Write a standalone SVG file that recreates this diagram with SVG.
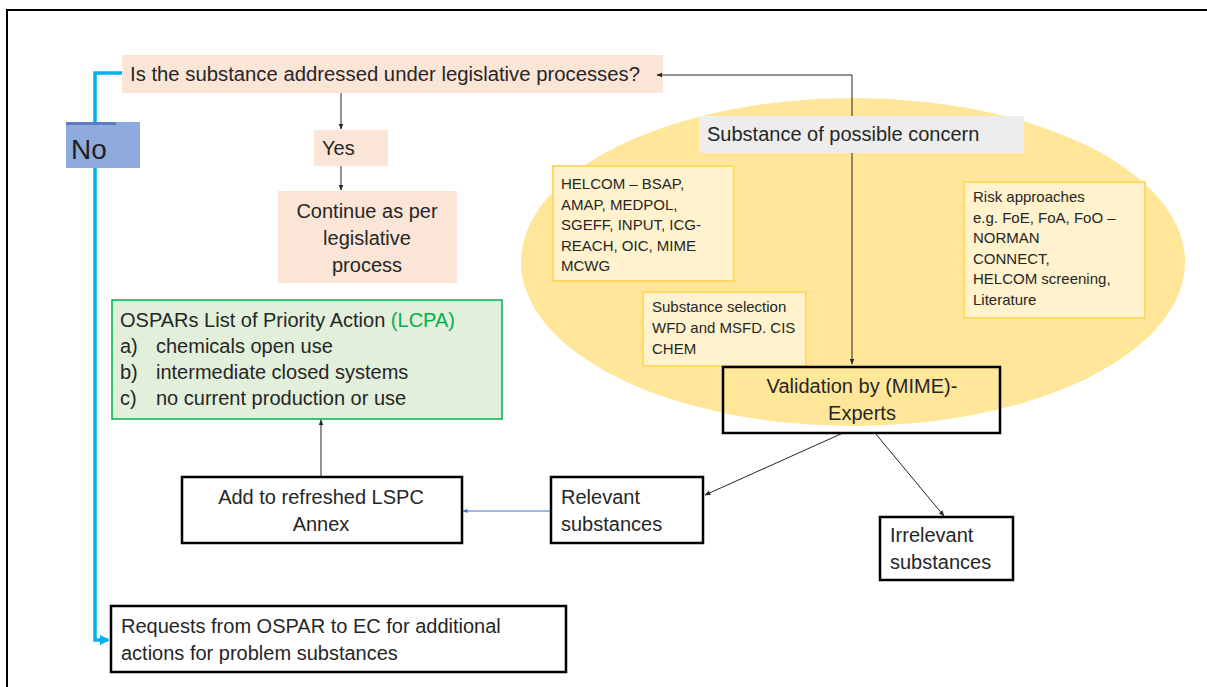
<svg xmlns="http://www.w3.org/2000/svg" width="1207" height="687" viewBox="0 0 1207 687">
<defs>
<style>
text{font-family:"Liberation Sans",Arial,sans-serif;fill:#262626}
.t18{font-size:20px}
.t13{font-size:15px}
.peach{fill:#FBE5D6}
.box{fill:#fff;stroke:#000;stroke-width:2.5}
.note{fill:#FFF2CC;stroke:#FFD966;stroke-width:2}
.con{stroke:#262626;stroke-width:1;fill:none}
.blue{stroke:#00B0F0;stroke-width:3.5;fill:none}
</style>
<marker id="ah" viewBox="0 0 10 10" refX="9" refY="5" markerWidth="6" markerHeight="6" orient="auto"><path d="M0,1 L10,5 L0,9 z" fill="#262626"/></marker>
<marker id="ahb" viewBox="0 0 10 10" refX="9" refY="5" markerWidth="5" markerHeight="5" orient="auto"><path d="M0,1 L10,5 L0,9 z" fill="#4472C4"/></marker>
<marker id="ahc" viewBox="0 0 10 10" refX="8" refY="5" markerWidth="3" markerHeight="3" orient="auto"><path d="M0,0 L10,5 L0,10 z" fill="#00B0F0"/></marker>
</defs>
<rect x="0" y="0" width="1207" height="687" fill="#fff"/>
<path d="M7,690 L7,10 L1210,10" fill="none" stroke="#000" stroke-width="2"/>

<g id="ellipse"><ellipse cx="853" cy="262" rx="332" ry="164" fill="#FFE699"/></g>

<g id="question"><rect class="peach" x="122" y="55" width="541" height="38"/>
<text class="t18" x="130" y="81" textLength="510" lengthAdjust="spacingAndGlyphs">Is the substance addressed under legislative processes?</text></g>

<g id="no"><rect x="66" y="122" width="74" height="46" fill="#8FAADC"/><rect x="66" y="122" width="50" height="3" fill="#5B7CC0"/>
<text x="71" y="159" style="font-size:28px;fill:#1f1f1f">No</text></g>

<g id="yes"><rect class="peach" x="314" y="130" width="74" height="36"/>
<text class="t18" x="322" y="155">Yes</text></g>

<g id="continue"><rect class="peach" x="278" y="191" width="179" height="92"/>
<text class="t18" x="367" y="218" text-anchor="middle">Continue as per</text>
<text class="t18" x="367" y="245" text-anchor="middle">legislative</text>
<text class="t18" x="367" y="272" text-anchor="middle">process</text></g>

<g id="connectors">
<path class="con" d="M852,117 L852,75 L657,75" marker-end="url(#ah)"/>
<path class="con" d="M852,153 L852,364" marker-end="url(#ah)"/>
<path class="con" d="M341,93 L341,129" marker-end="url(#ah)"/>
<path class="con" d="M341,166 L341,190" marker-end="url(#ah)"/>
<path class="con" d="M843,433 L705,495" marker-end="url(#ah)"/>
<path class="con" d="M875,433 L944,516" marker-end="url(#ah)"/>
<path class="con" d="M321,477 L321,420" marker-end="url(#ah)"/>
<path d="M551,511 L463,511" stroke="#4472C4" stroke-width="1" fill="none" marker-end="url(#ahb)"/>
<path class="blue" d="M122,73 L95,73 L95,122"/>
<path class="blue" d="M95,168 L95,640 L108,640" marker-end="url(#ahc)"/>
</g>

<g id="possible"><rect x="699" y="116" width="325" height="37" fill="#EDEDED"/>
<text class="t18" x="707" y="141">Substance of possible concern</text></g>

<g id="helcom"><rect class="note" x="553" y="166" width="181" height="115"/>
<text class="t13" x="561" y="189">HELCOM – BSAP,</text>
<text class="t13" x="561" y="210">AMAP, MEDPOL,</text>
<text class="t13" x="561" y="230">SGEFF,  INPUT, ICG-</text>
<text class="t13" x="561" y="251">REACH, OIC, MIME</text>
<text class="t13" x="561" y="271">MCWG</text></g>

<g id="selection"><rect class="note" x="643" y="292" width="163" height="74"/>
<text class="t13" x="652" y="312">Substance selection</text>
<text class="t13" x="652" y="333">WFD and MSFD. CIS</text>
<text class="t13" x="652" y="354">CHEM</text></g>

<g id="risk"><rect class="note" x="964" y="182" width="181" height="136"/>
<text class="t13" x="973" y="202">Risk approaches</text>
<text class="t13" x="973" y="223">e.g. FoE, FoA, FoO –</text>
<text class="t13" x="973" y="243">NORMAN</text>
<text class="t13" x="973" y="264">CONNECT,</text>
<text class="t13" x="973" y="284">HELCOM screening,</text>
<text class="t13" x="973" y="305">Literature</text></g>

<g id="validation"><rect x="723" y="367" width="277" height="66" fill="none" stroke="#000" stroke-width="2.5"/>
<text class="t18" x="862" y="393" text-anchor="middle">Validation by (MIME)-</text>
<text class="t18" x="862" y="420" text-anchor="middle">Experts</text></g>

<g id="lcpa"><rect x="112" y="300" width="390" height="119" fill="#E2EFDA" stroke="#00B050" stroke-width="1.5"/>
<text class="t18" x="120" y="327">OSPARs List of Priority Action <tspan style="fill:#00B050">(LCPA)</tspan></text>
<text class="t18" x="120" y="353">a)</text><text class="t18" x="156" y="353">chemicals open use</text>
<text class="t18" x="120" y="379">b)</text><text class="t18" x="156" y="379">intermediate closed systems</text>
<text class="t18" x="120" y="405">c)</text><text class="t18" x="156" y="405">no current production or use</text></g>

<g id="add"><rect class="box" x="182" y="477" width="280" height="66"/>
<text class="t18" x="321" y="504" text-anchor="middle">Add to refreshed LSPC</text>
<text class="t18" x="321" y="531" text-anchor="middle">Annex</text></g>

<g id="relevant"><rect class="box" x="551" y="477" width="152" height="66"/>
<text class="t18" x="561" y="504">Relevant</text>
<text class="t18" x="561" y="531">substances</text></g>

<g id="irrelevant"><rect class="box" x="880" y="517" width="133" height="63"/>
<text class="t18" x="890" y="542">Irrelevant</text>
<text class="t18" x="890" y="569">substances</text></g>

<g id="requests"><rect class="box" x="111" y="606" width="455" height="66"/>
<text class="t18" x="121" y="633">Requests from OSPAR to EC for additional</text>
<text class="t18" x="121" y="660">actions for problem substances</text></g>
</svg>
